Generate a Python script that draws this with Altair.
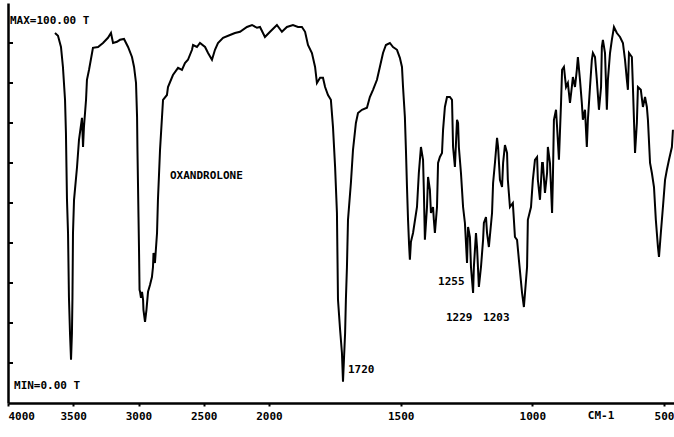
import altair as alt
import pandas as pd

# Spectrum: wavenumber (cm-1) and transmittance (%T)
wavenumber = [
    3640, 3617, 3594, 3579, 3563, 3556, 3552, 3548, 3540, 3533, 3525, 3517,
    3510, 3506, 3502, 3494, 3471, 3456, 3433, 3425, 3418, 3402, 3395, 3379,
    3356, 3349, 3310, 3272, 3234, 3211, 3195, 3165, 3142, 3111, 3080, 3050,
    3034, 3019, 3011, 3008, 3004, 3000, 2996, 2992, 2988, 2981, 2973, 2965,
    2962, 2950, 2939, 2927, 2912, 2897, 2889, 2885, 2874, 2858, 2851, 2843,
    2835, 2812, 2782, 2774, 2736, 2697, 2667, 2644, 2621, 2590, 2582, 2552,
    2529, 2490, 2467, 2437, 2414, 2391, 2352, 2299, 2261, 2222, 2169, 2130,
    2092, 2069, 2031,
    1996, 1970, 1951, 1932, 1909, 1890, 1875, 1863, 1852, 1837, 1825, 1818,
    1806, 1795, 1787, 1776, 1765, 1757, 1749, 1742, 1738, 1730, 1723, 1719,
    1711, 1708, 1704, 1700, 1689, 1681, 1670, 1662, 1647, 1628, 1617, 1605,
    1590, 1579, 1567, 1556, 1541, 1529, 1514, 1503, 1495, 1491, 1484, 1480,
    1476, 1472, 1468, 1465, 1461, 1453, 1438, 1431, 1423, 1415, 1412, 1408,
    1400, 1396, 1389, 1385, 1377, 1374, 1370, 1362, 1358, 1351, 1343, 1339,
    1332, 1324, 1313, 1305, 1301, 1294, 1286, 1282, 1279, 1271, 1263, 1256,
    1248, 1244, 1237, 1233, 1225, 1222, 1214, 1210, 1203, 1195, 1187, 1184,
    1176, 1172, 1165, 1153, 1149, 1142, 1134, 1130, 1123, 1115, 1111, 1104,
    1096, 1093, 1085, 1074, 1070, 1066, 1058, 1051, 1039, 1032, 1020, 1017,
    1005, 998, 990, 982, 979, 971, 963, 960, 952, 944, 941, 933,
    925, 922, 918, 910, 906, 899, 891, 887, 880, 872, 865, 857,
    850, 846, 838, 831, 827, 819, 812, 808, 800, 793, 789, 781,
    774, 770, 762, 755, 747, 739, 736, 732, 724, 717, 713, 705,
    698, 690, 679, 667, 656, 648, 641, 637, 633, 622, 618, 610,
    603, 599, 588, 580, 572, 565, 561, 553, 546, 538, 531, 523,
    519, 512, 504, 496, 489, 481, 470, 466,
]
transmittance = [
    92.5, 91.8, 89.0, 84.0, 75.8, 67.5, 59.0, 50.8, 42.5, 26.5, 17.5, 10.8,
    17.5, 26.5, 42.5, 50.8, 59.0, 65.8, 71.3, 64.0, 69.0, 75.8, 80.8, 83.3,
    87.5, 88.8, 89.0, 90.0, 91.3, 92.5, 90.0, 90.3, 90.8, 91.0, 89.0, 86.5,
    84.0, 80.0, 71.5, 63.3, 55.0, 46.5, 38.3, 28.3, 27.8, 26.3, 27.8, 25.8,
    23.3, 20.3, 23.3, 27.8, 29.5, 31.5, 34.0, 37.5, 35.0, 42.5, 50.8, 57.0,
    63.3, 75.8, 77.0, 79.0, 82.0, 83.8, 83.3, 85.0, 85.8, 88.3, 89.5, 89.0,
    90.0, 89.0, 87.5, 85.8, 88.3, 90.0, 91.3, 92.0, 92.5, 92.8, 94.0, 94.5,
    93.8, 94.0, 91.5,
    92.8, 94.5, 92.8, 94.0, 94.5, 94.0, 94.0, 92.8, 89.5, 87.5, 84.0, 80.0,
    81.3, 81.3, 79.0, 77.0, 75.8, 69.0, 59.0, 47.5, 25.8, 18.3, 12.5, 5.3,
    17.5, 25.8, 34.0, 45.8, 55.0, 63.3, 70.0, 72.5, 73.3, 73.8, 76.5, 78.3,
    80.8, 84.0, 87.5, 89.5, 90.0, 89.0, 88.3, 86.3, 84.0, 79.0, 71.5, 63.3,
    54.0, 45.8, 39.5, 35.8, 40.3, 42.5, 49.0, 57.5, 64.0, 60.8, 53.3, 40.8,
    49.0, 56.5, 53.3, 47.5, 49.0, 45.8, 42.5, 49.0, 60.0, 61.5, 62.5, 68.3,
    74.0, 76.5, 76.5, 75.8, 64.0, 59.0, 70.8, 70.0, 64.0, 57.5, 49.0, 45.0,
    35.0, 44.0, 41.5, 34.0, 27.5, 34.0, 42.5, 39.0, 29.0, 34.0, 40.8, 45.0,
    46.5, 42.5, 39.0, 47.5, 55.0, 60.0, 66.3, 64.0, 55.8, 54.0, 60.0, 64.5,
    62.5, 55.8, 49.0, 50.0, 45.8, 41.5, 40.8, 35.8, 27.5, 24.0, 34.0, 45.8,
    49.0, 55.8, 60.8, 61.5, 55.8, 50.8, 60.0, 60.0, 52.5, 57.5, 64.0, 60.0,
    47.5, 55.8, 70.8, 73.3, 69.0, 60.8, 75.0, 83.3, 84.0, 79.0, 80.0, 75.0,
    79.0, 81.5, 79.0, 83.3, 86.5, 80.8, 75.0, 70.8, 73.3, 64.0, 70.8, 79.0,
    85.8, 87.5, 86.5, 80.8, 73.3, 79.0, 89.0, 90.8, 87.5, 73.3, 80.8, 87.5,
    90.8, 94.0, 92.5, 91.5, 90.0, 85.8, 80.8, 78.3, 87.5, 86.5, 79.0, 62.5,
    70.0, 79.0, 78.3, 74.0, 76.5, 74.0, 70.8, 60.0, 57.5, 54.0, 45.8, 39.0,
    36.5, 42.5, 49.0, 55.8, 58.3, 60.8, 64.0, 68.3,
]

x_ticks = [4000, 3500, 3000, 2500, 2000, 1500, 1000, 500]
y_ticks = [10, 20, 30, 40, 50, 60, 70, 80, 90]

note_text = ["MAX=100.00 T", "MIN=0.00 T", "OXANDROLONE", "1720", "1255", "1229", "1203"]
note_wn = [3985, 3954, 2759, 1700, 1358, 1328, 1187]
note_t = [95.5, 4.25, 56.75, 8.25, 30.25, 21.25, 21.25]

unit_label = ["CM-1"]
unit_wn = [739]

spec = pd.DataFrame({"wn": wavenumber, "T": transmittance})
ticks = pd.DataFrame({"tick": y_ticks})
notes = pd.DataFrame({"wn": note_wn, "T": note_t, "label": note_text})
units = pd.DataFrame({"wn": unit_wn, "label": unit_label})

FONT = "DejaVu Sans Mono"
W, H = 666, 400

xscale = alt.Scale(domain=[4000, 2000, 462], range=[0, 261, W], nice=False, zero=False)
yscale = alt.Scale(domain=[0, 100], nice=False, zero=False)

xaxis = alt.Axis(
    values=x_ticks, format="d", labelFlush=True, grid=False,
    domainColor="black", domainWidth=2.5, tickColor="black", tickWidth=2, tickSize=3,
    labelFont=FONT, labelFontWeight="bold", labelFontSize=11, labelColor="black",
    labelPadding=4,
)
yaxis = alt.Axis(labels=False, ticks=False, grid=False, domainColor="black", domainWidth=2.5)

line = alt.Chart(spec).mark_line(color="black", strokeWidth=2, clip=True).encode(
    x=alt.X("wn:Q", scale=xscale, axis=xaxis, title=None),
    y=alt.Y("T:Q", scale=yscale, axis=yaxis, title=None),
)

yt = alt.Chart(ticks).mark_rule(color="black", strokeWidth=2).encode(
    y=alt.Y("tick:Q", scale=yscale, title=None),
    x=alt.value(0),
    x2=alt.value(5),
)

txt = alt.Chart(notes).mark_text(
    align="left", baseline="middle", font=FONT, fontWeight="bold", fontSize=11, color="black"
).encode(
    x=alt.X("wn:Q", scale=xscale),
    y=alt.Y("T:Q", scale=yscale),
    text="label:N",
)

unit = alt.Chart(units).mark_text(
    align="center", baseline="middle", font=FONT, fontWeight="bold", fontSize=11, color="black"
).encode(
    x=alt.X("wn:Q", scale=xscale),
    y=alt.value(H + 13),
    text="label:N",
)

chart = alt.layer(line, yt, txt, unit).properties(
    width=W, height=H,
    autosize=alt.AutoSizeParams(type="none"),
    padding={"left": 8, "top": 3, "right": 0, "bottom": 34},
    background="white",
).configure_view(strokeWidth=0)

chart.save("out.html", embed_options={"renderer": "svg", "actions": False})
